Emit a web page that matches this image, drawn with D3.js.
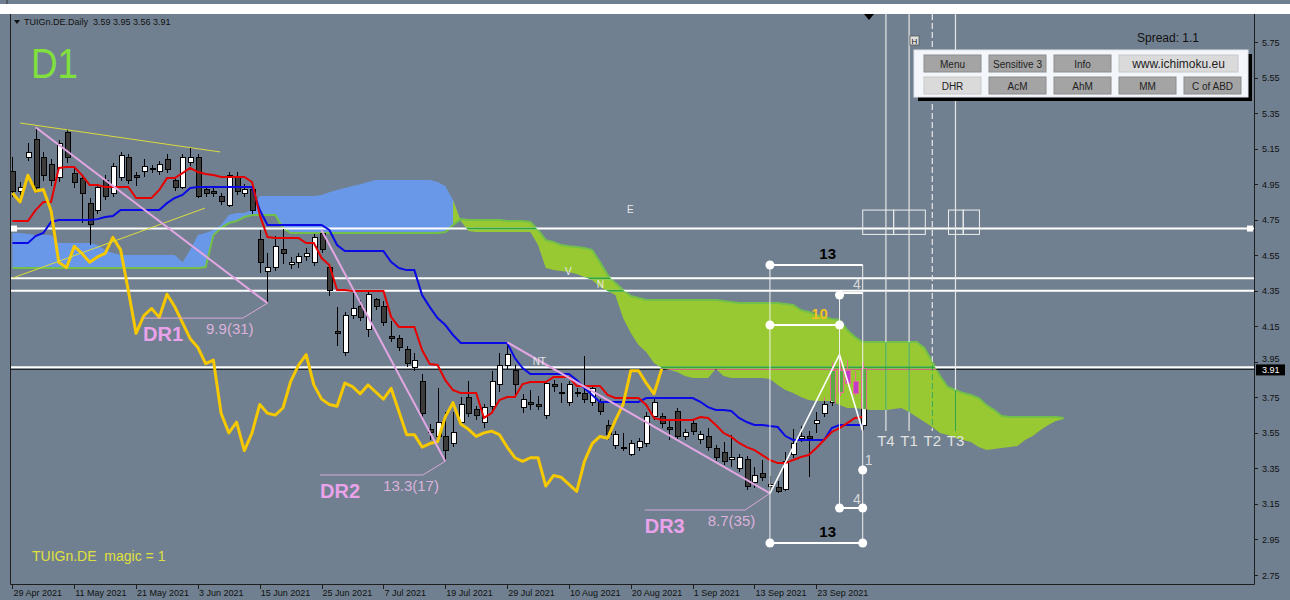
<!DOCTYPE html>
<html><head><meta charset="utf-8">
<script src="https://cdn.jsdelivr.net/npm/d3@7"></script>
<style>body{margin:0;background:#708090;}svg{display:block;}text{font-family:"Liberation Sans",Arial,sans-serif;white-space:pre;}</style>
</head><body><svg id="c" width="1290" height="600"></svg>
<script>
// ---------- DATA ----------
const open  = [5.02,4.91,5.10,5.20,5.10,5.06,4.99,5.24,5.01,4.98,4.84,4.80,4.97,4.90,4.99,5.10,5.00,5.02,5.04,5.02,5.09,4.97,4.93,5.07,5.10,4.92,4.91,4.88,4.83,4.99,4.90,4.92,4.64,4.46,4.48,4.58,4.50,4.51,4.54,4.51,4.67,4.48,4.12,4.00,4.21,4.26,4.13,4.30,4.26,4.09,4.08,4.02,3.92,3.84,3.57,3.53,3.53,3.49,3.61,3.75,3.68,3.61,3.70,3.82,3.93,3.90,3.69,3.72,3.71,3.65,3.82,3.78,3.72,3.77,3.77,3.72,3.72,3.59,3.48,3.46,3.43,3.47,3.49,3.64,3.64,3.58,3.67,3.53,3.60,3.51,3.53,3.46,3.44,3.40,3.35,3.40,3.27,3.32,3.25,3.24,3.23,3.43,3.52,3.53,3.60,3.66,3.72,3.78,3.90,3.84,3.59];
const high  = [5.10,4.96,5.18,5.27,5.13,5.09,5.20,5.26,5.05,5.00,4.87,4.95,5.00,5.07,5.13,5.12,5.02,5.09,5.06,5.08,5.12,4.99,5.12,5.16,5.12,4.94,4.93,4.90,5.02,5.02,4.95,4.94,4.69,4.56,4.66,4.70,4.54,4.56,4.59,4.67,4.69,4.50,4.26,4.23,4.34,4.30,4.35,4.31,4.29,4.18,4.10,4.04,4.00,3.88,3.60,3.80,3.67,3.67,3.75,3.84,3.70,3.71,3.90,4.00,4.06,3.93,3.77,3.79,3.76,3.84,3.85,3.83,3.84,3.80,3.98,3.82,3.74,3.62,3.56,3.55,3.51,3.52,3.67,3.75,3.66,3.62,3.69,3.57,3.62,3.56,3.58,3.48,3.50,3.54,3.43,3.42,3.36,3.40,3.31,3.28,3.44,3.57,3.59,3.56,3.67,3.75,3.95,3.99,3.96,3.90,3.95];
const low   = [4.88,4.89,5.08,4.90,4.97,4.94,4.96,5.07,4.93,4.73,4.61,4.78,4.86,4.88,4.97,4.95,4.94,4.99,5.01,5.00,5.01,4.91,4.92,5.05,4.87,4.88,4.88,4.83,4.82,4.89,4.88,4.78,4.45,4.28,4.46,4.50,4.47,4.48,4.52,4.49,4.56,4.32,4.04,3.98,4.19,4.18,4.09,4.24,4.15,4.06,4.01,3.92,3.90,3.64,3.51,3.51,3.39,3.47,3.59,3.64,3.62,3.58,3.68,3.78,3.91,3.76,3.66,3.68,3.68,3.63,3.78,3.72,3.70,3.75,3.72,3.70,3.65,3.51,3.46,3.45,3.42,3.45,3.47,3.62,3.58,3.51,3.51,3.51,3.54,3.49,3.45,3.39,3.37,3.36,3.33,3.23,3.24,3.28,3.21,3.21,3.22,3.41,3.50,3.30,3.55,3.64,3.70,3.76,3.82,3.76,3.56];
const close = [4.91,4.93,5.13,4.93,5.00,4.97,5.18,5.10,4.96,4.90,4.72,4.93,4.88,5.05,5.11,4.97,4.99,5.05,5.03,5.06,5.03,4.93,5.10,5.10,4.88,4.90,4.90,4.85,5.00,4.91,4.92,4.80,4.51,4.48,4.60,4.56,4.51,4.54,4.56,4.65,4.58,4.35,4.11,4.21,4.25,4.20,4.33,4.26,4.17,4.08,4.03,3.94,3.96,3.66,3.55,3.61,3.45,3.55,3.71,3.66,3.65,3.69,3.84,3.93,3.99,3.82,3.74,3.71,3.70,3.83,3.81,3.77,3.82,3.78,3.74,3.80,3.67,3.54,3.54,3.47,3.49,3.50,3.64,3.72,3.60,3.57,3.53,3.55,3.56,3.54,3.47,3.41,3.39,3.41,3.41,3.25,3.31,3.30,3.26,3.22,3.39,3.49,3.53,3.52,3.62,3.71,3.90,3.90,3.83,3.77,3.91];

const tenkan = [4.742,4.742,4.742,4.804,4.849,4.849,5.041,5.046,5.046,5.001,4.945,4.945,4.934,4.934,4.934,4.934,4.872,4.872,4.872,4.917,4.984,4.984,5.012,5.041,5.018,5.007,5.001,4.990,4.990,4.990,4.990,4.962,4.776,4.652,4.647,4.647,4.647,4.647,4.618,4.618,4.534,4.495,4.354,4.354,4.348,4.348,4.348,4.348,4.348,4.202,4.146,4.146,4.146,4.016,3.937,3.932,3.847,3.791,3.774,3.774,3.774,3.634,3.662,3.735,3.752,3.752,3.825,3.836,3.836,3.836,3.864,3.864,3.864,3.814,3.814,3.814,3.814,3.763,3.746,3.746,3.746,3.746,3.707,3.634,3.623,3.623,3.623,3.623,3.623,3.639,3.634,3.594,3.549,3.527,3.493,3.470,3.453,3.425,3.397,3.380,3.380,3.397,3.414,3.425,3.465,3.510,3.555,3.577,3.605,3.634,3.639];
const kijun = [4.618,4.618,4.618,4.658,4.675,4.737,4.748,4.748,4.748,4.748,4.748,4.753,4.765,4.770,4.804,4.804,4.804,4.804,4.804,4.804,4.843,4.872,4.889,4.928,4.934,4.934,4.934,4.934,4.934,4.934,4.934,4.934,4.804,4.720,4.720,4.720,4.720,4.720,4.720,4.720,4.720,4.692,4.607,4.573,4.573,4.573,4.573,4.573,4.573,4.511,4.478,4.466,4.466,4.326,4.258,4.196,4.157,4.101,4.056,4.056,4.056,4.056,4.056,4.056,4.056,3.971,3.915,3.881,3.881,3.881,3.881,3.881,3.881,3.847,3.802,3.763,3.724,3.724,3.724,3.724,3.724,3.724,3.746,3.746,3.746,3.746,3.746,3.746,3.746,3.724,3.695,3.679,3.679,3.673,3.634,3.611,3.594,3.594,3.588,3.583,3.532,3.510,3.510,3.510,3.510,3.510,3.577,3.594,3.594,3.594,3.594];
const spanA = [4.675,4.675,4.669,4.663,4.663,4.663,4.618,4.618,4.618,4.618,4.618,4.607,4.579,4.562,4.551,4.551,4.551,4.551,4.551,4.551,4.551,4.551,4.511,4.579,4.663,4.675,4.692,4.720,4.776,4.787,4.787,4.804,4.883,4.883,4.883,4.883,4.883,4.883,4.883,4.883,4.889,4.905,4.917,4.928,4.939,4.950,4.962,4.973,4.973,4.973,4.973,4.973,4.973,4.973,4.973,4.962,4.939,4.860,4.742,4.686,4.680,4.680,4.680,4.680,4.680,4.680,4.680,4.680,4.607,4.478,4.466,4.461,4.455,4.444,4.427,4.410,4.371,4.348,4.326,4.196,4.112,4.044,4.005,3.943,3.915,3.904,3.893,3.870,3.859,3.859,3.859,3.909,3.870,3.859,3.859,3.859,3.859,3.859,3.853,3.819,3.791,3.774,3.752,3.735,3.729,3.729,3.729,3.707,3.690,3.690,3.684,3.679,3.679,3.679,3.684,3.690,3.667,3.639,3.611,3.583,3.549,3.538,3.521,3.510,3.498,3.470,3.453,3.459,3.465,3.470,3.476,3.510,3.532,3.566,3.594,3.617,3.628];
const spanB = [4.478,4.478,4.478,4.478,4.478,4.478,4.478,4.478,4.478,4.478,4.478,4.478,4.478,4.478,4.478,4.478,4.478,4.478,4.478,4.478,4.478,4.478,4.478,4.478,4.478,4.483,4.663,4.703,4.731,4.742,4.765,4.776,4.776,4.776,4.776,4.703,4.675,4.675,4.675,4.675,4.675,4.675,4.675,4.675,4.675,4.675,4.675,4.675,4.675,4.675,4.675,4.675,4.675,4.675,4.675,4.675,4.680,4.720,4.753,4.748,4.748,4.748,4.748,4.748,4.742,4.742,4.742,4.737,4.692,4.635,4.624,4.607,4.601,4.596,4.590,4.579,4.511,4.438,4.393,4.354,4.320,4.309,4.298,4.298,4.298,4.298,4.298,4.298,4.298,4.298,4.298,4.298,4.292,4.286,4.281,4.281,4.281,4.281,4.281,4.281,4.275,4.270,4.241,4.230,4.213,4.202,4.191,4.185,4.129,4.089,4.061,4.061,4.061,4.061,4.061,4.061,4.061,4.061,4.027,3.949,3.870,3.808,3.791,3.774,3.763,3.746,3.707,3.679,3.645,3.639,3.639,3.639,3.639,3.639,3.639,3.639,3.634];
const chikouShift = 26;

const priceTicks = [5.75,5.55,5.35,5.15,4.95,4.75,4.55,4.35,4.15,3.95,3.75,3.55,3.35,3.15,2.95,2.75];
const dateLabels = ["29 Apr 2021","11 May 2021","21 May 2021","3 Jun 2021","15 Jun 2021","25 Jun 2021","7 Jul 2021","19 Jul 2021","29 Jul 2021","10 Aug 2021","20 Aug 2021","1 Sep 2021","13 Sep 2021","23 Sep 2021"];
const dateBars = [0,8,16,24,32,40,48,56,64,72,80,88,96,104];

const levels = [4.70, 4.42, 4.35];
const bidLevel = 3.91, bidLevel2 = 3.92;
const header = "TUIGn.DE.Daily  3.59 3.95 3.56 3.91";

const yellowTrends = [[[1,5.294],[26.9,5.131]],[[0,4.421],[24.9,4.815]]];
const drs = [
  {name:"DR1", line:[[3,5.27],[33,4.28]], tail:[[33,4.28],[29.8,4.196],[16.9,4.196]], txt:"9.9(31)"},
  {name:"DR2", line:[[40,4.69],[56,3.39]], tail:[[56,3.39],[53.1,3.313],[39.8,3.313]], txt:"13.3(17)"},
  {name:"DR3", line:[[64,4.06],[98,3.21]], tail:[[98,3.21],[94.8,3.116],[81.8,3.116]], txt:"8.7(35)"}
];
const zigzag = [[98,3.21],[107,3.99],[110,3.56]];
const mVert = [[98,4.495,2.93],[110,4.495,2.93],[107,4.326,3.127]];
const mHoriz = [
  {b0:98,b1:110,p:4.495,t:"13",k:"big"},
  {b0:98,b1:110,p:2.93,t:"13",k:"big"},
  {b0:98,b1:107,p:4.157,t:"10",k:"gold"},
  {b0:107,b1:110,p:4.337,t:"4",k:"small"},
  {b0:107,b1:110,p:3.127,t:"4",k:"small"}
];
const mDots = [[98,4.495],[98,2.93],[110,2.93],[98,4.157],[107,4.157],[107,4.326],[107,3.127],[110,3.127],[110,3.341]];
const mOne = [110,3.341,"1"];
const tLines = [{b:113,t:"T4"},{b:116,t:"T1"},{b:119,t:"T2",dash:true},{b:122,t:"T3"}];
const tEnd = 3.56;
const boxes = [[110,114,4.804,4.667],[114,118.1,4.804,4.667],[121.1,123,4.804,4.667],[123,125.1,4.804,4.667]];
const marks = [{t:"E",b:79.5,p:4.787},{t:"V",b:71.5,p:4.438},{t:"N",b:75.6,p:4.365},{t:"NT",b:67.3,p:3.932}];
const buttons = [
  {t:"Menu",r:0,c:0,w:1,light:false},{t:"Sensitive 3",r:0,c:1,w:1,light:false},{t:"Info",r:0,c:2,w:1,light:false},{t:"www.ichimoku.eu",r:0,c:3,w:2,light:true},
  {t:"DHR",r:1,c:0,w:1,light:true},{t:"AcM",r:1,c:1,w:1,light:false},{t:"AhM",r:1,c:2,w:1,light:false},{t:"MM",r:1,c:3,w:1,light:false},{t:"C of ABD",r:1,c:4,w:1,light:false}
];

// ---------- SCALES ----------
const W=1290,H=600, P={l:10,r:1254,t:14,b:584};
const x = d3.scaleLinear().domain([0,136]).range([12.4,1063.7]);
const y = d3.scaleLinear().domain([2.75,5.75]).range([575,42]);
const svg = d3.select('#c');
const defs = svg.append('defs');
defs.append('clipPath').attr('id','plot').append('rect').attr('x',P.l).attr('y',P.t).attr('width',P.r-P.l).attr('height',P.b-P.t);

svg.append('rect').attr('width',W).attr('height',H).attr('fill','#708090');
svg.append('rect').attr('x',0).attr('y',4).attr('width',W).attr('height',10).attr('fill','#ffffff');
svg.append('line').attr('x1',7).attr('x2',7).attr('y1',0).attr('y2',4).attr('stroke','#333');

const main = svg.append('g').attr('clip-path','url(#plot)');

// cloud
const cloud = spanA.map((a,i)=>({i,a,b:spanB[i]}));
function segs(pred){const out=[];let cur=null;cloud.forEach((d,k)=>{if(pred(d)){if(!cur){cur=[];if(k>0)cur.push(cloud[k-1]);out.push(cur);}cur.push(d);}else if(cur){cur.push(d);cur=null;}});return out;}
const area = d3.area().x(d=>x(d.i)).y0(d=>y(d.a)).y1(d=>y(d.b));
const blueSegs = segs(d=>d.a>d.b), greenSegs = segs(d=>d.a<=d.b);
main.append('g').selectAll('path').data(blueSegs).join('path').attr('d',area).attr('fill','#6a98e8');
main.append('g').selectAll('path').data(greenSegs).join('path').attr('d',area).attr('fill','#98c832');
const gcp = defs.append('clipPath').attr('id','gcloud');
gcp.selectAll('path').data(greenSegs).join('path').attr('d',area);
main.append('path').datum(cloud).attr('fill','none').attr('stroke','#72c04a').attr('stroke-width',2)
  .attr('d',d3.line().x(d=>x(d.i)).y(d=>y(d.b)));

// horizontal levels, T lines, boxes
const gl = main.append('g');
gl.selectAll('line.lv').data(levels).join('line').attr('class','lv')
  .attr('x1',P.l).attr('x2',P.r).attr('y1',d=>y(d)).attr('y2',d=>y(d)).attr('stroke','#fff').attr('stroke-width',2);
gl.append('line').attr('x1',P.l).attr('x2',P.r).attr('y1',y(bidLevel2)).attr('y2',y(bidLevel2)).attr('stroke','#fff').attr('stroke-width',2);
gl.append('line').attr('x1',P.l).attr('x2',P.r).attr('y1',y(bidLevel)+0.5).attr('y2',y(bidLevel)+0.5).attr('stroke','#1a1a1a').attr('stroke-width',1);
gl.append('rect').attr('x',P.l+1).attr('y',y(levels[0])-3).attr('width',6).attr('height',6).attr('fill','#fff');
gl.append('rect').attr('x',P.r-7).attr('y',y(levels[0])-3).attr('width',6).attr('height',6).attr('fill','#fff');
gl.selectAll('line.tl').data(tLines).join('line').attr('class','tl')
  .attr('x1',d=>x(d.b)).attr('x2',d=>x(d.b)).attr('y1',P.t).attr('y2',y(tEnd))
  .attr('stroke','#e6e6e6').attr('stroke-width',1.2).attr('stroke-dasharray',d=>d.dash?'6,3':null);
gl.selectAll('rect.bx').data(boxes).join('rect').attr('class','bx')
  .attr('x',d=>x(d[0])).attr('width',d=>x(d[1])-x(d[0])).attr('y',d=>y(d[2])).attr('height',d=>y(d[3])-y(d[2]))
  .attr('fill','none').attr('stroke','#eee').attr('stroke-width',1);

// candles
const candles = open.map((o,i)=>({i,o,h:high[i],l:low[i],c:close[i]}));
function drawCandles(g, bull, bear, wick){
  g.selectAll('line').data(candles).join('line')
    .attr('x1',d=>Math.round(x(d.i))+0.5).attr('x2',d=>Math.round(x(d.i))+0.5)
    .attr('y1',d=>y(d.h)).attr('y2',d=>y(d.l)).attr('stroke',wick).attr('stroke-width',1);
  g.selectAll('rect').data(candles).join('rect')
    .attr('x',d=>Math.round(x(d.i))-2).attr('width',5)
    .attr('y',d=>y(Math.max(d.o,d.c))).attr('height',d=>Math.max(1,Math.abs(y(d.o)-y(d.c))))
    .attr('fill',d=>d.c>=d.o?bull:bear).attr('stroke',wick).attr('stroke-width',1);
}
drawCandles(main.append('g').attr('shape-rendering','crispEdges'),'#ffffff','#3c3c3c','#000');

// tenkan / kijun
const ln = d3.line().x((d,i)=>x(i)).y(d=>y(d));
main.append('path').datum(kijun).attr('d',ln).attr('fill','none').attr('stroke','#0a0ae6').attr('stroke-width',2);
main.append('path').datum(tenkan).attr('d',ln).attr('fill','none').attr('stroke','#e60000').attr('stroke-width',2);

// recolor inside green cloud
const ov = main.append('g').attr('clip-path','url(#gcloud)');
ov.selectAll('line.lv').data(levels.concat([bidLevel2])).join('line').attr('class','lv')
  .attr('x1',P.l).attr('x2',P.r).attr('y1',d=>y(d)).attr('y2',d=>y(d)).attr('stroke','#34a834').attr('stroke-width',2);
ov.append('line').attr('x1',P.l).attr('x2',P.r).attr('y1',y(bidLevel)+0.5).attr('y2',y(bidLevel)+0.5).attr('stroke','#e0708c').attr('stroke-width',1);
ov.selectAll('line.tl').data(tLines).join('line').attr('class','tl')
  .attr('x1',d=>x(d.b)).attr('x2',d=>x(d.b)).attr('y1',P.t).attr('y2',y(tEnd))
  .attr('stroke','#34a834').attr('stroke-width',1.2).attr('stroke-dasharray',d=>d.dash?'6,3':null);
drawCandles(ov.append('g').attr('shape-rendering','crispEdges'),'#58ac44','#c23ccc','#e0708c');

// chikou
const chik = close.slice(chikouShift);
main.append('path').datum(chik).attr('d',ln).attr('fill','none').attr('stroke','#f6c800').attr('stroke-width',3).attr('stroke-linejoin','round');

// yellow trend lines
const pl = d3.line().x(d=>x(d[0])).y(d=>y(d[1]));
main.selectAll('path.yt').data(yellowTrends).join('path').attr('class','yt').attr('d',pl).attr('fill','none').attr('stroke','#dcdc3c').attr('stroke-width',1);

// DR lines
drs.forEach(dr=>{
  main.append('path').datum(dr.line).attr('d',pl).attr('fill','none').attr('stroke','#e2a6e2').attr('stroke-width',2);
  main.append('path').datum(dr.tail).attr('d',pl).attr('fill','none').attr('stroke','#d8a8d8').attr('stroke-width',1);
  const e = dr.tail[2];
  main.append('text').attr('x',x(e[0])).attr('y',y(e[1])+23).text(dr.name)
    .attr('font-size',20).attr('font-weight','bold').attr('fill','#eaa2ea');
  main.append('text').attr('x',x(e[0])+63).attr('y',y(e[1])+16).text(dr.txt)
    .attr('font-size',15).attr('fill','#dcb2dc');
});

// zigzag + measure
main.append('path').datum(zigzag).attr('d',pl).attr('fill','none').attr('stroke','#fff').attr('stroke-width',1.6);
main.selectAll('line.mv').data(mVert).join('line').attr('class','mv')
  .attr('x1',d=>x(d[0])).attr('x2',d=>x(d[0])).attr('y1',d=>y(d[1])).attr('y2',d=>y(d[2])).attr('stroke','#f0f0f0').attr('stroke-width',1);
main.selectAll('line.mh').data(mHoriz).join('line').attr('class','mh')
  .attr('x1',d=>x(d.b0)).attr('x2',d=>x(d.b1)).attr('y1',d=>y(d.p)).attr('y2',d=>y(d.p)).attr('stroke','#fff').attr('stroke-width',2);
main.selectAll('circle.md').data(mDots).join('circle').attr('class','md')
  .attr('cx',d=>x(d[0])).attr('cy',d=>y(d[1])).attr('r',4.5).attr('fill','#fff');
const lblX = d => d.k==='small' ? x(d.b1)-2 : (d.k==='gold' ? x(d.b1)-20 : x(d.b1)-35);
main.selectAll('text.mt').data(mHoriz).join('text').attr('class','mt')
  .attr('x',lblX)
  .attr('y',d=>d.k==='small'?y(d.p)-4:y(d.p)-6)
  .attr('text-anchor',d=>d.k==='small'?'end':'middle')
  .attr('font-size',d=>d.k==='small'?14:15).attr('font-weight',d=>d.k==='small'?'normal':'bold')
  .attr('fill',d=>d.k==='gold'?'#f2c21e':(d.k==='small'?'#d8d8d8':'#000')).text(d=>d.t);
main.append('text').attr('x',x(mOne[0])+2).attr('y',y(mOne[1])-5).attr('font-size',14).attr('fill','#d8d8d8').text(mOne[2]);

// T labels
main.selectAll('text.tt').data(tLines).join('text').attr('class','tt')
  .attr('x',d=>x(d.b)).attr('y',y(tEnd)+15).attr('text-anchor','middle').attr('font-size',15).attr('fill','#e2e2e2').text(d=>d.t);
// marks
main.selectAll('text.mk').data(marks).join('text').attr('class','mk')
  .attr('x',d=>x(d.b)).attr('y',d=>y(d.p)).attr('font-size',10).attr('fill','#e8e8e8').text(d=>d.t);

// ---------- FRAME & AXES ----------
svg.append('path').attr('d',`M${P.l+0.5},${P.t}V${P.b+0.5}H${P.r+0.5}V${P.t}`).attr('fill','none').attr('stroke','#1e1e1e').attr('stroke-width',1);
const ya = svg.append('g');
ya.selectAll('line').data(priceTicks).join('line').attr('x1',P.r).attr('x2',P.r+4).attr('y1',d=>Math.round(y(d))+0.5).attr('y2',d=>Math.round(y(d))+0.5).attr('stroke','#1e1e1e');
ya.selectAll('text').data(priceTicks).join('text').attr('x',P.r+8)
  .attr('y',d=>y(d)+(Math.abs(d-bidLevel)<0.06?0.5:3.5)).attr('font-size',9).attr('fill','#111').text(d=>d.toFixed(2));
svg.append('rect').attr('x',P.r+2).attr('y',y(bidLevel)-4.5).attr('width',29).attr('height',11).attr('fill','#000');
svg.append('text').attr('x',P.r+8).attr('y',y(bidLevel)+4.5).attr('font-size',9).attr('fill','#fff').text(bidLevel.toFixed(2));
const xa = svg.append('g');
xa.selectAll('line').data(dateBars).join('line').attr('x1',d=>Math.round(x(d))+0.5).attr('x2',d=>Math.round(x(d))+0.5).attr('y1',P.b).attr('y2',P.b+5).attr('stroke','#1e1e1e');
xa.selectAll('text').data(dateLabels).join('text').attr('x',(d,k)=>x(dateBars[k])+1).attr('y',P.b+12).attr('font-size',9).attr('fill','#111').text(d=>d);

// header & labels
svg.append('path').attr('d','M14,20 L20,20 L17,24 Z').attr('fill','#111');
svg.append('text').attr('x',24).attr('y',25).attr('font-size',9).attr('fill','#111').text(header);
svg.append('text').attr('x',31).attr('y',78).attr('font-size',42).attr('fill','#80e03c').attr('textLength',47).attr('lengthAdjust','spacingAndGlyphs').text('D1');
svg.append('text').attr('x',32).attr('y',561).attr('font-size',14).attr('fill','#e0e03c').text('TUIGn.DE  magic = 1');
svg.append('path').attr('d','M864,14 L874,14 L869,20 Z').attr('fill','#000');

// panel
svg.append('text').attr('x',1137).attr('y',42).attr('font-size',12).attr('fill','#111').text('Spread: 1.1');
svg.append('rect').attr('x',910).attr('y',36).attr('width',9).attr('height',9).attr('fill','#dedede').attr('stroke','#555').attr('stroke-width',0.8);
svg.append('text').attr('x',914.5).attr('y',44).attr('text-anchor','middle').attr('font-size',8).attr('fill','#111').text('H');
svg.append('rect').attr('x',918).attr('y',54).attr('width',334).attr('height',47).attr('fill','#000');
svg.append('rect').attr('x',914).attr('y',50).attr('width',334).attr('height',47).attr('fill','#f3f6fb').attr('stroke','#e0e4ea');
const colX=[924,989,1054,1119,1184], rowY=[55,77];
const bg = svg.append('g');
bg.selectAll('rect').data(buttons).join('rect')
  .attr('x',d=>colX[d.c]).attr('y',d=>rowY[d.r]).attr('width',d=>d.w===2?119:57).attr('height',17)
  .attr('fill',d=>d.light?'#dadada':'#a4a4a4').attr('stroke',d=>d.light?'#c8c8c8':'#8c8c8c').attr('stroke-width',1);
bg.selectAll('text').data(buttons).join('text')
  .attr('x',d=>colX[d.c]+(d.w===2?119:57)/2).attr('y',d=>rowY[d.r]+12.5).attr('text-anchor','middle')
  .attr('font-size',d=>d.w===2?12:10).attr('fill','#222').text(d=>d.t);
</script></body></html>
